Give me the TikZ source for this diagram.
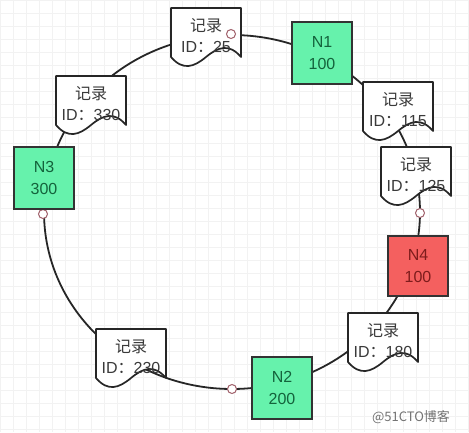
\documentclass[tikz,border=0pt]{standalone}
\usepackage{fontspec}
\setmainfont{Liberation Sans}
\newfontfamily\cjk{Noto Sans CJK SC}
\usetikzlibrary{shapes.geometric}

\definecolor{ringcol}{HTML}{262626}
\definecolor{nodegreen}{HTML}{66F2AC}
\definecolor{textgreen}{HTML}{14633C}
\definecolor{nodered}{HTML}{F4605F}
\definecolor{textred}{HTML}{7E1C1C}
\definecolor{dotcol}{HTML}{A0606A}
\definecolor{doctext}{HTML}{3A3A3A}

\tikzset{
  ring/.style={draw=ringcol, line width=1.8, ellipse, inner sep=0},
  docline/.style={draw=black!85, line width=1.7, line join=round},
  doctxt/.style={align=center, inner sep=0, text=doctext, font=\fontsize{16}{21}\selectfont},
  server/.style={draw=black!80, line width=1.7, minimum width=60, minimum height=62,
    align=center, inner sep=0, font=\fontsize{16}{22}\selectfont},
  greenbox/.style={server, fill=nodegreen, text=textgreen},
  redbox/.style={server, fill=nodered, text=textred},
  hashdot/.style={circle, draw=dotcol, fill=white, line width=1, minimum size=9, inner sep=0},
  gridline/.style={draw=black!5, line width=0.4}
}

% record on the ring: name, x, y, id
\newcommand{\RecordDoc}[4]{%
  \begin{scope}[shift={(#2,#3)}]
    \fill[white] (-35,20) -- (-35,-29) -- (35,-29) -- (35,20)
      .. controls (23,6) and (12,10) .. (0,20)
      .. controls (-12,30) and (-23,34) .. (-35,20) -- cycle;
    \draw[docline] (-35,20) -- (-35,-29) -- (35,-29) -- (35,20)
      .. controls (23,6) and (12,10) .. (0,20)
      .. controls (-12,30) and (-23,34) .. (-35,20) -- cycle;
    \node[doctxt] (#1) at (0,-1) {{\cjk 记录}\\ID{\cjk ：}#4};
  \end{scope}}

\begin{document}
\begin{tikzpicture}[x=1pt, y=-1pt]
  \useasboundingbox (0,0) rectangle (469,432);
  \fill[white] (0,0) rectangle (469,432);
  \draw[gridline] (0pt,0pt) grid[step=13pt] (469pt,-432pt);

  % hash ring
  \node[ring, minimum width=376, minimum height=354] (ring) at (232,212) {};

  % records
  \RecordDoc{r25}{206}{37}{25}
  \RecordDoc{r115}{398}{111}{115}
  \RecordDoc{r125}{416}{176}{125}
  \RecordDoc{r180}{383}{342}{180}
  \RecordDoc{r230}{131}{358}{230}
  \RecordDoc{r330}{91}{105}{330}

  % hash positions
  \node[hashdot] (d1) at (231,34) {};
  \node[hashdot] (d2) at (420,213) {};
  \node[hashdot] (d3) at (232,389) {};
  \node[hashdot] (d4) at (43,214) {};

  % servers
  \node[greenbox] (n1) at (322,53) {N1\\100};
  \node[redbox, minimum height=60] (n4) at (418,266) {N4\\100};
  \node[greenbox] (n2) at (282,388) {N2\\200};
  \node[greenbox] (n3) at (44,178) {N3\\300};

  \node[text=black!55, font=\cjk\fontsize{13}{13}\selectfont] (mark) at (411,417) {@51CTO博客};
\end{tikzpicture}
\end{document}
